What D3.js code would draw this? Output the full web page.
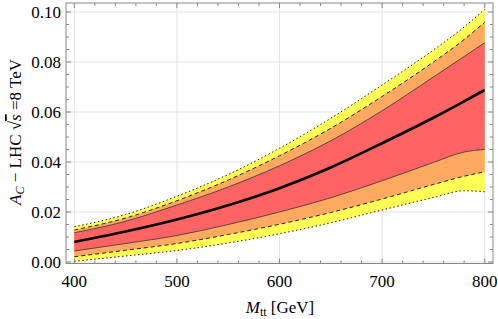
<!DOCTYPE html>
<html>
<head>
<meta charset="utf-8">
<script src="https://cdn.jsdelivr.net/npm/d3@7"></script>
<style>
  body { margin: 0; background: #fff; }
  text { font-family: "Liberation Serif", "Times New Roman", serif; }
</style>
</head>
<body>
<svg id="chart" width="498" height="319"></svg>
<script>
// invariant mass points (GeV)
var mass = [400, 450, 500, 550, 600, 650, 700, 750, 780, 800];
// central value and bands
var central  = [0.0080, 0.0122, 0.0170, 0.0227, 0.0295, 0.0378, 0.0475, 0.0577, 0.0643, 0.0688];
var redHi    = [0.0117, 0.0163, 0.0228, 0.0300, 0.0385, 0.0485, 0.0605, 0.0740, 0.0822, 0.0877];
var redLo    = [0.0044, 0.0074, 0.0106, 0.0150, 0.0200, 0.0257, 0.0325, 0.0398, 0.0440, 0.0450];
var orangeHi = [0.0128, 0.0176, 0.0245, 0.0328, 0.0425, 0.0535, 0.0662, 0.0800, 0.0890, 0.0959];
var orangeLo = [0.0021, 0.0047, 0.0074, 0.0110, 0.0151, 0.0198, 0.0252, 0.0310, 0.0343, 0.0361];
var yellowHi = [0.0141, 0.0190, 0.0263, 0.0350, 0.0455, 0.0575, 0.0708, 0.0848, 0.0940, 0.1011];
var yellowLo = [0.0003, 0.0024, 0.0046, 0.0076, 0.0113, 0.0157, 0.0208, 0.0258, 0.0285, 0.0281];

var xTicks = [400, 500, 600, 700, 800];
var yTicks = [0, 0.02, 0.04, 0.06, 0.08, 0.10];

var svg = d3.select("#chart");
var fLeft = 66, fRight = 493, fTop = 3, fBottom = 263.5;

var x = d3.scaleLinear().domain([391.9, 808.1]).range([fLeft, fRight]);
var y = d3.scaleLinear().domain([-0.0006, 0.1036]).range([fBottom, fTop]);

// grid
svg.append("g").selectAll("line").data(xTicks).enter().append("line")
  .attr("x1", d => x(d)).attr("x2", d => x(d))
  .attr("y1", fTop).attr("y2", fBottom)
  .attr("stroke", "#e3e3e3").attr("stroke-width", 1);
svg.append("g").selectAll("line").data(yTicks).enter().append("line")
  .attr("x1", fLeft).attr("x2", fRight)
  .attr("y1", d => y(d)).attr("y2", d => y(d))
  .attr("stroke", "#e3e3e3").attr("stroke-width", 1);

function band(hi, lo){
  return d3.area()
    .x((d, i) => x(mass[i]))
    .y0((d, i) => y(lo[i]))
    .y1((d, i) => y(hi[i]))
    .curve(d3.curveMonotoneX)(mass);
}
function edge(vals){
  return d3.line()
    .x((d, i) => x(mass[i]))
    .y((d, i) => y(vals[i]))
    .curve(d3.curveMonotoneX)(mass);
}

svg.append("path").attr("d", band(yellowHi, yellowLo)).attr("fill", "#ffff55");
svg.append("path").attr("d", band(orangeHi, orangeLo)).attr("fill", "#ffaa60");
svg.append("path").attr("d", band(redHi, redLo)).attr("fill", "#ff6464");

[yellowHi, yellowLo].forEach(function(v){
  svg.append("path").attr("d", edge(v)).attr("fill", "none")
    .attr("stroke", "#222").attr("stroke-width", 1).attr("stroke-dasharray", "1.5,2.5");
});
[orangeHi, orangeLo].forEach(function(v){
  svg.append("path").attr("d", edge(v)).attr("fill", "none")
    .attr("stroke", "#222").attr("stroke-width", 1).attr("stroke-dasharray", "4,3");
});
[redHi, redLo].forEach(function(v){
  svg.append("path").attr("d", edge(v)).attr("fill", "none")
    .attr("stroke", "#333").attr("stroke-width", 0.8);
});
svg.append("path").attr("d", edge(central)).attr("fill", "none")
  .attr("stroke", "#000").attr("stroke-width", 2.6);

// frame
svg.append("rect").attr("x", fLeft).attr("y", fTop)
  .attr("width", fRight - fLeft).attr("height", fBottom - fTop)
  .attr("fill", "none").attr("stroke", "#888").attr("stroke-width", 1);

// ticks on all four sides, pointing in
var ticks = svg.append("g").attr("stroke", "#888").attr("stroke-width", 1);
d3.range(400, 801, 20).forEach(function(m){
  var len = (m % 100 === 0) ? 5 : 3;
  ticks.append("line").attr("x1", x(m)).attr("x2", x(m)).attr("y1", fBottom).attr("y2", fBottom - len);
  ticks.append("line").attr("x1", x(m)).attr("x2", x(m)).attr("y1", fTop).attr("y2", fTop + len);
});
d3.range(0, 21).forEach(function(k){
  var v = k * 0.005;
  var len = (k % 4 === 0) ? 5 : 3;
  ticks.append("line").attr("x1", fLeft).attr("x2", fLeft + len).attr("y1", y(v)).attr("y2", y(v));
  ticks.append("line").attr("x1", fRight).attr("x2", fRight - len).attr("y1", y(v)).attr("y2", y(v));
});

// tick labels
svg.append("g").selectAll("text").data(xTicks).enter().append("text")
  .attr("x", d => x(d)).attr("y", 287)
  .attr("text-anchor", "middle").attr("font-size", 17)
  .text(d => d);
svg.append("g").selectAll("text").data(yTicks).enter().append("text")
  .attr("x", 61).attr("y", d => y(d) + 5.5)
  .attr("text-anchor", "end").attr("font-size", 17)
  .text(d => d3.format(".2f")(d));

// x axis title
var xt = svg.append("text").attr("x", 280).attr("y", 313)
  .attr("text-anchor", "middle").attr("font-size", 17);
xt.append("tspan").attr("font-style", "italic").text("M");
xt.append("tspan").attr("font-size", 12).attr("dy", 3).text("tt");
xt.append("tspan").attr("dy", -3).text(" [GeV]");

// y axis title
var yt = svg.append("text")
  .attr("transform", "translate(21,132) rotate(-90)")
  .attr("text-anchor", "middle").attr("font-size", 17);
yt.append("tspan").attr("font-style", "italic").text("A");
yt.append("tspan").attr("font-style", "italic").attr("font-size", 12).attr("dy", 3).text("C");
yt.append("tspan").attr("dy", -3).text(" \u2212 LHC \u221A");
yt.append("tspan").attr("font-style", "italic").style("text-decoration", "overline").text("s");
yt.append("tspan").text(" =8 TeV");
</script>
</body>
</html>
